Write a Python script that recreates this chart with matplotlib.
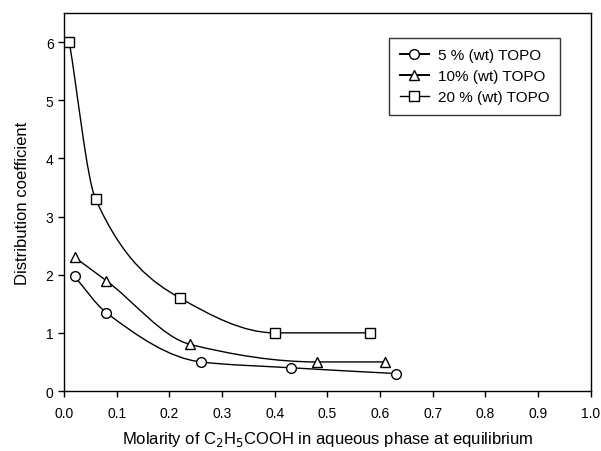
import matplotlib.pyplot as plt
import numpy as np
from matplotlib.path import Path
from matplotlib.patches import PathPatch

plt.rcParams["font.family"] = ["Liberation Sans", "DejaVu Sans"]

# molarity of propionic acid in aqueous phase
x_5 = [0.02, 0.08, 0.26, 0.43, 0.63]
d_5 = [1.97, 1.35, 0.50, 0.40, 0.30]
x_10 = [0.02, 0.08, 0.24, 0.48, 0.61]
d_10 = [2.30, 1.90, 0.80, 0.50, 0.50]
x_20 = [0.01, 0.06, 0.22, 0.40, 0.58]
d_20 = [6.00, 3.30, 1.60, 1.00, 1.00]

labels = ["5 % (wt) TOPO", "10% (wt) TOPO", "20 % (wt) TOPO"]
markers = ["o", "^", "s"]
x_ticks = [0.0, 0.1, 0.2, 0.3, 0.4, 0.5, 0.6, 0.7, 0.8, 0.9, 1.0]
y_ticks = [0, 1, 2, 3, 4, 5, 6]


def smooth_path(xs, ys):
    """Monotone cubic (Fritsch-Carlson) curve through the points, as bezier segments."""
    x = np.asarray(xs, float)
    y = np.asarray(ys, float)
    h = np.diff(x)
    s = np.diff(y) / h
    n = len(x)
    m = np.zeros(n)
    m[0], m[-1] = s[0], s[-1]
    for i in range(1, n - 1):
        if s[i - 1] * s[i] <= 0:
            m[i] = 0.0
        else:
            w1 = 2 * h[i] + h[i - 1]
            w2 = h[i] + 2 * h[i - 1]
            m[i] = (w1 + w2) / (w1 / s[i - 1] + w2 / s[i])
    verts = [(x[0], y[0])]
    codes = [Path.MOVETO]
    for i in range(n - 1):
        verts += [(x[i] + h[i] / 3, y[i] + m[i] * h[i] / 3),
                  (x[i + 1] - h[i] / 3, y[i + 1] - m[i + 1] * h[i] / 3),
                  (x[i + 1], y[i + 1])]
        codes += [Path.CURVE4] * 3
    return Path(verts, codes)


fig = plt.figure(figsize=(6.01, 4.52), dpi=100)
ax = fig.add_axes([0.1065, 0.1327, 0.8765, 0.8363])

for xs, ys, lab, mk in zip([x_5, x_10, x_20], [d_5, d_10, d_20], labels, markers):
    ax.add_patch(PathPatch(smooth_path(xs, ys), fill=False, edgecolor="black", lw=1.0))
    ax.plot(xs, ys, linestyle="none", marker=mk, markersize=7, markerfacecolor="white",
            markeredgecolor="black", markeredgewidth=1.0, zorder=3)
    ax.plot([], [], color="black", lw=1.4 if mk != "s" else 1.0, marker=mk, markersize=7,
            markerfacecolor="white", markeredgecolor="black", label=lab)

ax.set_xlim(0, 1.0)
ax.set_ylim(0, 6.5)
ax.set_xticks(x_ticks)
ax.set_xticklabels([f"{v:.1f}" for v in x_ticks])
ax.set_yticks(y_ticks)
ax.tick_params(direction="out", length=4, labelsize=10, width=1)
ax.tick_params(axis="x", pad=7)
for s in ax.spines.values():
    s.set_linewidth(1.0)

ax.set_xlabel("Molarity of C$_2$H$_5$COOH in aqueous phase at equilibrium", fontsize=12, labelpad=6)
ax.set_ylabel("Distribution coefficient", fontsize=12, labelpad=11)

leg = ax.legend(loc="upper right", bbox_to_anchor=(0.957, 0.955), fontsize=11, frameon=True,
                fancybox=False, edgecolor="black", handlelength=1.9, borderpad=0.7,
                labelspacing=0.45, handletextpad=0.6)
leg.get_frame().set_linewidth(1.0)

fig.savefig("out.png", dpi=100)
